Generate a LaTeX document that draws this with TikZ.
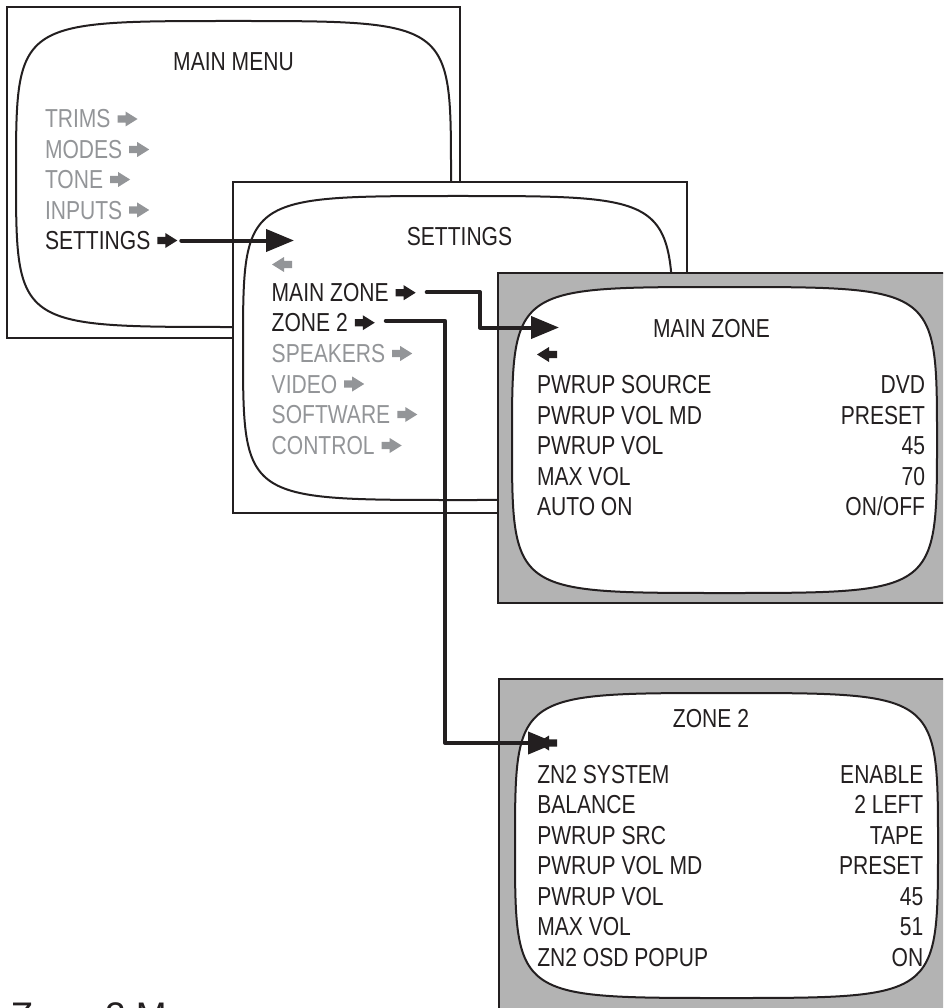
\documentclass[tikz,border=0pt]{standalone}
\usepackage{fontspec}
\setmainfont{Liberation Sans}[FakeStretch=0.81]
\newfontfamily\headfont{Liberation Sans}
\usetikzlibrary{calc,arrows.meta}
\definecolor{ink}{HTML}{231F20}
\definecolor{dim}{HTML}{939598}
\definecolor{panel}{HTML}{B3B3B3}
\newcommand\menufont{\fontsize{26}{30}\selectfont}
% CRT screen outline: style, L, T, R, B
\newcommand\crtshape[5]{%
  \path[#1] ({(#2+#4)/2},#3) .. controls (#4,#3) .. (#4,{(#3+#5)/2})
    .. controls (#4,#5) .. ({(#2+#4)/2},#5)
    .. controls (#2,#5) .. (#2,{(#3+#5)/2})
    .. controls (#2,#3) .. ({(#2+#4)/2},#3) -- cycle;}
\tikzset{
  rarr/.pic={\fill (0,-3.6) -- (8,-3.6) -- (8,-7.5) -- (20,0) -- (8,7.5) -- (8,3.6) -- (0,3.6) -- cycle;},
  larr/.pic={\fill (0,0) -- (12,-7.5) -- (12,-3.6) -- (20,-3.6) -- (20,3.6) -- (12,3.6) -- (12,7.5) -- cycle;},
}
\begin{document}
\begin{tikzpicture}[x=1pt,y=-1pt,
  every node/.style={inner sep=0pt, outer sep=0pt},
  txt/.style={anchor=base west, text=ink, font=\menufont},
  dimtxt/.style={txt, text=dim},
  val/.style={anchor=base east, text=ink, font=\menufont},
  ttl/.style={anchor=base, text=ink, font=\menufont},
  frame/.style={draw=ink, line width=2pt},
  screen/.style={draw=ink, line width=2pt, fill=white},
  conn/.style={draw=ink, line width=4pt, line cap=round, line join=round,
    -{Triangle[length=28pt,width=22pt]}},
]
\useasboundingbox (0,0) rectangle (943,1008);
\clip (0,0) rectangle (943,1008);

% ---------- MAIN MENU ----------
\path[frame, fill=white] (7,7) rectangle (460,338);
\crtshape{screen}{16}{21}{451}{327}
\node[ttl] (mmT) at (233.5,71) {MAIN MENU};
\node[dimtxt] (mm1) at (45,128) {TRIMS};
\node[dimtxt] (mm2) at (45,158.5) {MODES};
\node[dimtxt] (mm3) at (45,188.5) {TONE};
\node[dimtxt] (mm4) at (45,219) {INPUTS};
\node[txt] (mm5) at (45,249.5) {SETTINGS};
\foreach \n in {mm1,mm2,mm3,mm4}
  \pic[color=dim] at ($(\n.base east)+(7,-9)$) {rarr};
\pic[color=ink] at ($(mm5.base east)+(7,-9)$) {rarr};

% ---------- SETTINGS ----------
\path[frame, fill=white] (233,182) rectangle (687,513);
\crtshape{screen}{243}{196}{673}{500}
\node[ttl] (stT) at (459.5,245) {SETTINGS};
\pic[color=dim] at (272,264.5) {larr};
\node[txt] (st1) at (271.7,301.7) {MAIN ZONE};
\node[txt] (st2) at (271.7,331.7) {ZONE 2};
\node[dimtxt] (st3) at (271.7,362.5) {SPEAKERS};
\node[dimtxt] (st4) at (271.7,393) {VIDEO};
\node[dimtxt] (st5) at (271.7,423.5) {SOFTWARE};
\node[dimtxt] (st6) at (271.7,454.5) {CONTROL};
\foreach \n in {st1,st2}
  \pic[color=ink] at ($(\n.base east)+(7,-9)$) {rarr};
\foreach \n in {st3,st4,st5,st6}
  \pic[color=dim] at ($(\n.base east)+(7,-9)$) {rarr};

% ---------- MAIN ZONE ----------
\path[frame, fill=panel] (498,273) rectangle (946,603);
\crtshape{screen}{512}{287}{937}{593}
\node[ttl] (mzT) at (711.5,337) {MAIN ZONE};
\pic[color=ink] at (537,354.5) {larr};
\node[txt] (mz1) at (537,393) {PWRUP SOURCE};
\node[txt] (mz2) at (537,424) {PWRUP VOL MD};
\node[txt] (mz3) at (537,454.5) {PWRUP VOL};
\node[txt] (mz4) at (537,485) {MAX VOL};
\node[txt] (mz5) at (537,515.5) {AUTO ON};
\node[val] (mv1) at (925,393) {DVD};
\node[val] (mv2) at (925,424) {PRESET};
\node[val] (mv3) at (925,454.5) {45};
\node[val] (mv4) at (925,485) {70};
\node[val] (mv5) at (925,515.5) {ON/OFF};

% ---------- ZONE 2 ----------
\path[frame, fill=panel] (499,679) rectangle (946,1012);
\crtshape{screen}{515}{693}{938}{998}
\node[ttl] (z2T) at (711,727) {ZONE 2};
\node[txt] (z1) at (537.3,783) {ZN2 SYSTEM};
\node[txt] (z2) at (537.3,813.5) {BALANCE};
\node[txt] (z3) at (537.3,844) {PWRUP SRC};
\node[txt] (z4) at (537.3,874.5) {PWRUP VOL MD};
\node[txt] (z5) at (537.3,905) {PWRUP VOL};
\node[txt] (z6) at (537.3,935.5) {MAX VOL};
\node[txt] (z7) at (537.3,966) {ZN2 OSD POPUP};
\node[val] (zv1) at (923.3,783) {ENABLE};
\node[val] (zv2) at (923.3,813.5) {2 LEFT};
\node[val] (zv3) at (923.3,844) {TAPE};
\node[val] (zv4) at (923.3,874.5) {PRESET};
\node[val] (zv5) at (923.3,905) {45};
\node[val] (zv6) at (923.3,935.5) {51};
\node[val] (zv7) at (923.3,966) {ON};

% ---------- connectors ----------
\coordinate (c1s) at ($(mm5.base east)+(31,-9)$);
\coordinate (c1e) at (294,240.5);
\draw[conn] (c1s) -- (c1s -| c1e);

\coordinate (c2s) at ($(st1.base east)+(38,-9.5)$);
\coordinate (c2b) at (480,327.5);
\coordinate (c2e) at (559,327.5);
\draw[conn] (c2s) -| (c2b) -- (c2e);

\coordinate (c3s) at ($(st2.base east)+(38,-11)$);
\coordinate (c3b) at (445,743);
\coordinate (c3e) at (556,743);
\draw[conn] (c3s) -| (c3b) -- (c3e);
\pic[color=ink] at (537,743) {larr};

% ---------- caption (cut off) ----------
\node[anchor=base west, text=ink, font={\headfont\fontsize{37}{40}\selectfont}] (cap) at (10.5,1028.5) {Zone 2 Menu};
\end{tikzpicture}
\end{document}
